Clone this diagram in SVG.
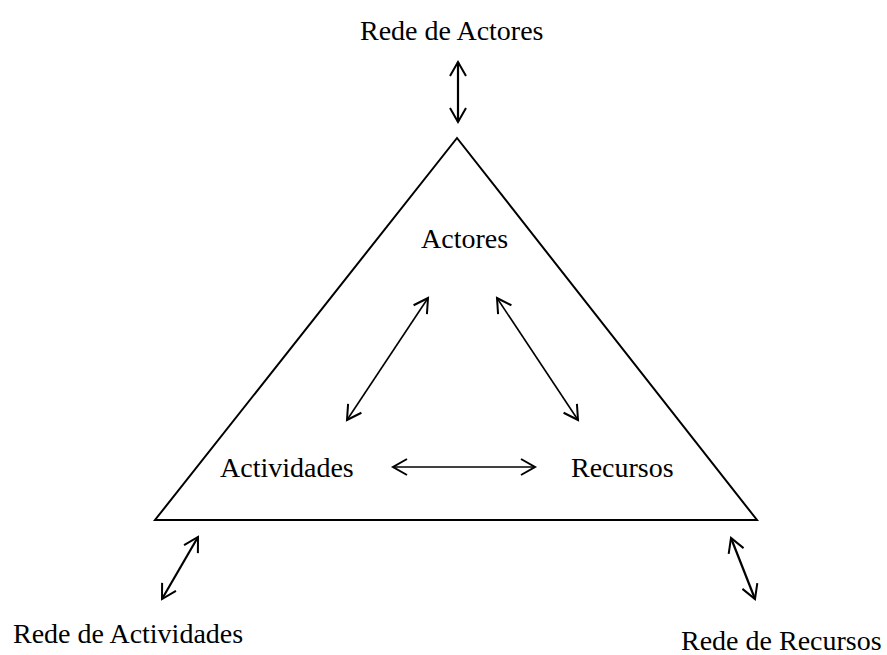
<svg xmlns="http://www.w3.org/2000/svg" width="887" height="655" viewBox="0 0 887 655">
  <defs>
    <marker id="head" markerUnits="userSpaceOnUse" markerWidth="18" markerHeight="20" viewBox="0 0 18 20" refX="15" refY="10" orient="auto-start-reverse">
      <path d="M1,2 L15,10 L1,18" fill="none" stroke="#000" stroke-width="2"/>
    </marker>
  </defs>
  <style>
    text { font-family: "Liberation Serif", "Times New Roman", serif; font-size: 28px; fill: #000; }
    .tri { fill: #fff; stroke: #000; stroke-width: 2; stroke-linejoin: miter; }
    .outer { stroke: #000; stroke-width: 2.2; fill: none; marker-start: url(#head); marker-end: url(#head); }
    .inner { stroke: #000; stroke-width: 1.6; fill: none; marker-start: url(#head); marker-end: url(#head); }
  </style>
  <rect width="887" height="655" fill="#fff"/>
  <g id="triangle">
    <polygon class="tri" points="457,138 155,520 757,520"/>
  </g>
  <g id="rede-actores"><text x="360" y="40">Rede de Actores</text></g>
  <g id="actores"><text x="421" y="248">Actores</text></g>
  <g id="actividades"><text x="220" y="477">Actividades</text></g>
  <g id="recursos"><text x="571" y="477">Recursos</text></g>
  <g id="rede-actividades"><text x="13" y="643">Rede de Actividades</text></g>
  <g id="rede-recursos"><text x="681" y="650">Rede de Recursos</text></g>
  <g id="connectors">
    <line class="outer" x1="458" y1="62" x2="458" y2="122"/>
    <line class="outer" x1="198" y1="537" x2="162" y2="599"/>
    <line class="outer" x1="731" y1="538" x2="755" y2="599"/>
    <line class="inner" x1="428" y1="298" x2="347" y2="420"/>
    <line class="inner" x1="497" y1="298" x2="578" y2="420"/>
    <line class="inner" x1="393" y1="467" x2="535" y2="467"/>
  </g>
</svg>
